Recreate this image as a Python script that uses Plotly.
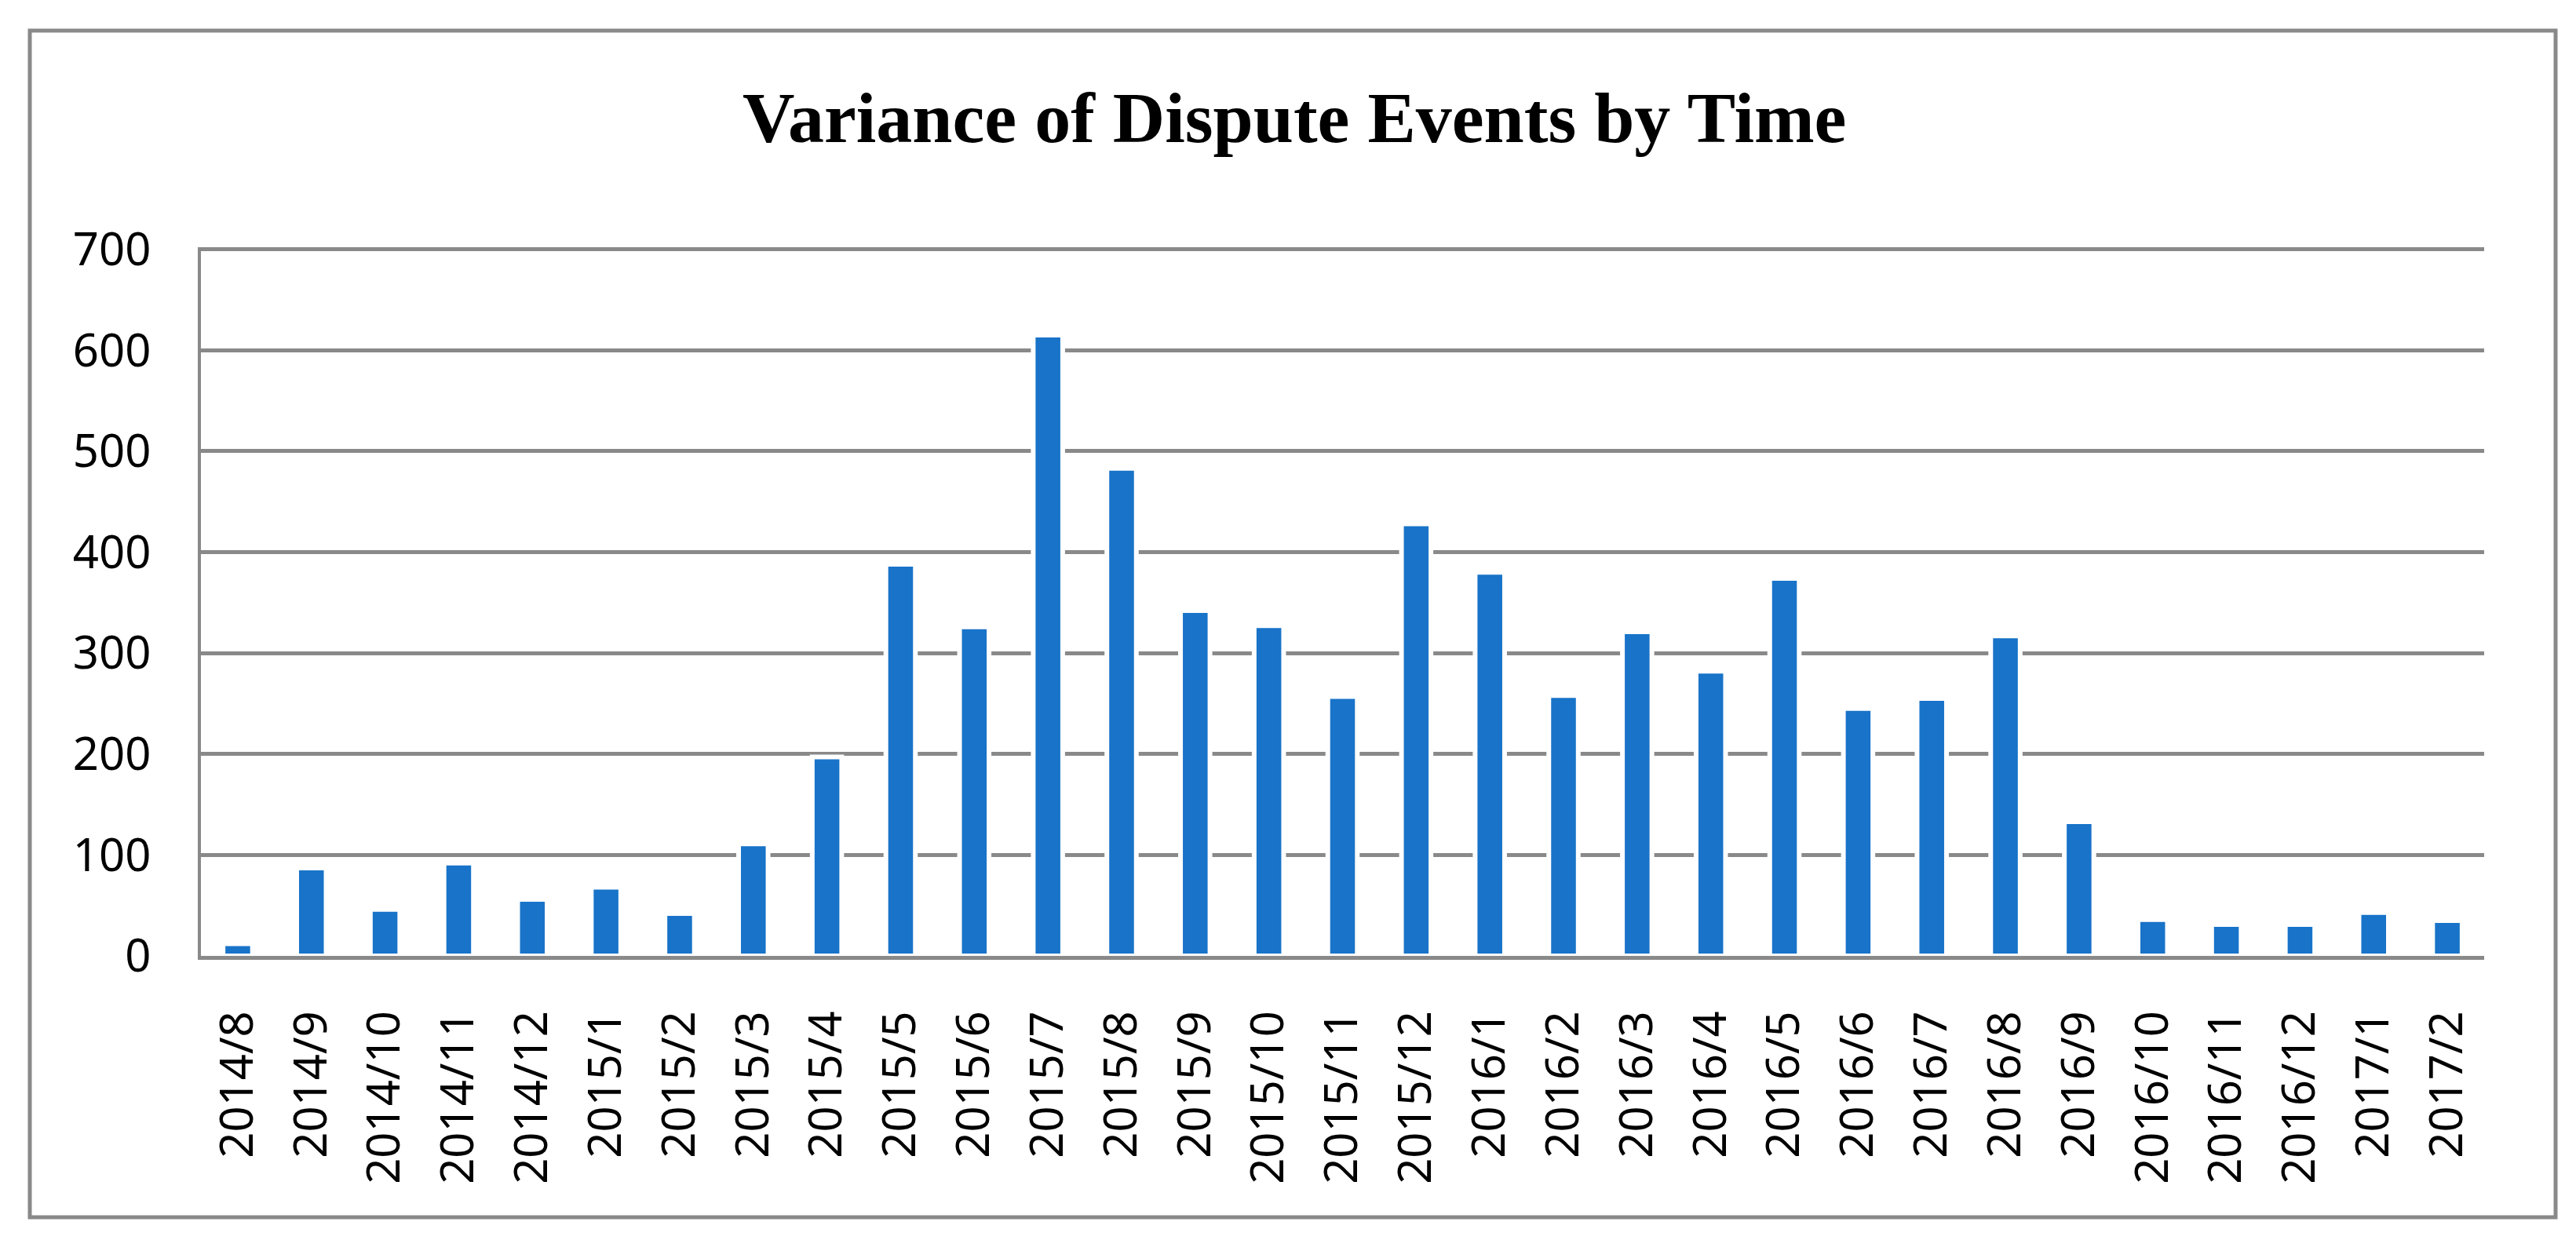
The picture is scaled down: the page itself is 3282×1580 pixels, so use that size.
import plotly.graph_objects as go

categories = ["2014/8", "2014/9", "2014/10", "2014/11", "2014/12",
              "2015/1", "2015/2", "2015/3", "2015/4", "2015/5", "2015/6",
              "2015/7", "2015/8", "2015/9", "2015/10", "2015/11", "2015/12",
              "2016/1", "2016/2", "2016/3", "2016/4", "2016/5", "2016/6",
              "2016/7", "2016/8", "2016/9", "2016/10", "2016/11", "2016/12",
              "2017/1", "2017/2"]
values = [12, 87, 46, 92, 56, 68, 42, 111, 197, 388, 326, 615, 483, 342,
          327, 257, 428, 380, 258, 321, 282, 374, 245, 255, 317, 133, 36,
          31, 31, 43, 35]
y_ticks = [0, 100, 200, 300, 400, 500, 600, 700]
title_text = "Variance of Dispute Events by Time"

W, H = 3282, 1580
Y_MAX = 702
L, R = 256, 117
B = 362
PX_PER_UNIT = 900 / 700
T = round(H - B - PX_PER_UNIT * Y_MAX)
pw, ph = W - L - R, H - T - B

GRAY = "#898989"
BLUE = "#1873C9"
TICK_FONT = dict(family="Noto Sans, Open Sans, sans-serif", size=58, color="black")

fig = go.Figure(go.Bar(
    x=categories, y=values, width=0.4,
    marker=dict(color=BLUE, line=dict(color="white", width=6)),
))

def px_x(p):
    return (p - L) / pw

def px_y(p):
    return (H - B - p) / ph

fig.add_shape(type="rect", xref="paper", yref="paper",
              x0=px_x(38), x1=px_x(3256), y0=px_y(1551), y1=px_y(39),
              line=dict(color=GRAY, width=5), fillcolor="rgba(0,0,0,0)",
              layer="below")

fig.update_layout(
    width=W, height=H,
    margin=dict(l=L, r=R, t=T, b=B),
    paper_bgcolor="white", plot_bgcolor="white",
    showlegend=False,
    title=dict(text="<b>" + title_text + "</b>", x=0.5025, xanchor="center",
               xref="container", y=0.906, yanchor="middle", yref="container",
               font=dict(family="Liberation Serif, Times New Roman, serif",
                         size=92, color="black")),
    xaxis=dict(type="category", tickangle=-90, tickfont=TICK_FONT,
               showgrid=False, showline=True, linecolor=GRAY, linewidth=5,
               ticks="", ticklabelstandoff=42, zeroline=False),
    yaxis=dict(range=[0, Y_MAX], tickvals=y_ticks, tickfont=TICK_FONT,
               showgrid=True, gridcolor=GRAY, gridwidth=4.5,
               showline=True, linecolor=GRAY, linewidth=4,
               ticks="", ticklabelstandoff=48, zeroline=False),
)

fig.write_html("out.html",
               config={"displayModeBar": False},
               post_script="document.body.style.margin='0px';")
